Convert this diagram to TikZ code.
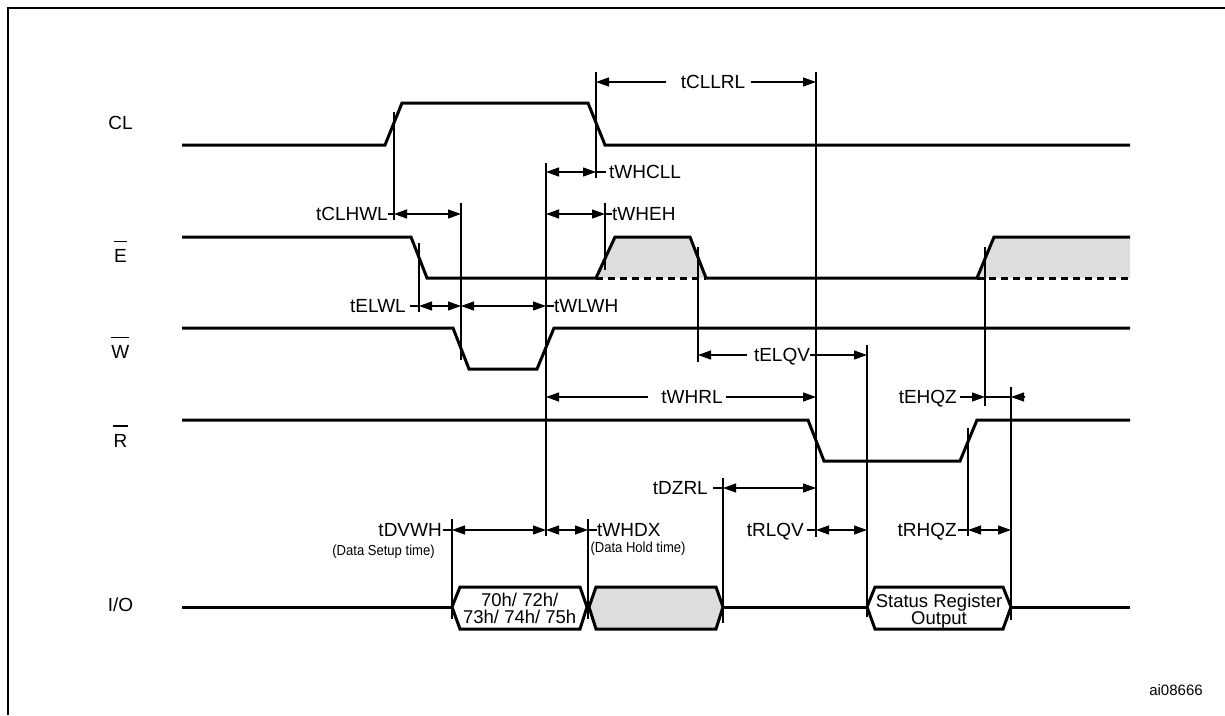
\documentclass[tikz,border=0pt]{standalone}
\usepackage{fontspec}
\setmainfont{Liberation Sans}
\usetikzlibrary{arrows.meta}
\definecolor{lightfill}{RGB}{220,221,223}
\begin{document}
\begin{tikzpicture}[x=1pt,y=-1pt,
  wave/.style={line width=3pt, line join=miter},
  guide/.style={line width=1.2pt},
  dimline/.style={line width=1.2pt},
  dimboth/.style={dimline, {Triangle[length=13pt,width=9pt]}-{Triangle[length=13pt,width=9pt]}},
  dimto/.style={dimline, -{Triangle[length=13pt,width=9pt]}},
  lbl/.style={inner sep=0pt, font=\fontsize{19}{22}\selectfont, text height=13.6pt, text depth=0pt},
  hexlbl/.style={inner sep=0pt, font=\fontsize{18.5}{20}\selectfont},
  smallnote/.style={inner sep=0pt, font=\fontsize{14.5}{16}\selectfont},
  bar/.style={line width=1.2pt},
]
\useasboundingbox (0,0) rectangle (1225,715);
\fill[white] (0,0) rectangle (1225,715);
% frame
\draw[line width=2.2pt] (8.3,715) -- (8.3,8.2) -- (1225,8.2);

% signal names
\node[lbl] (sCL) at (120.5,122.4) {CL};
\node[lbl] (sE) at (120.5,256) {E};
\node[lbl] (sW) at (120.3,351.7) {W};
\node[lbl] (sR) at (120.5,440.5) {R};
\node[lbl] (sIO) at (120.5,605) {I/O};
\foreach \n in {sE,sW,sR}
  \draw[bar] ([yshift=7.5pt]\n.north west) -- ([yshift=7.5pt]\n.north east);

% shaded regions of E
\fill[lightfill] (596,278) -- (615,237) -- (690,237) -- (706,278) -- cycle;
\fill[lightfill] (977,278) -- (994,237) -- (1130,237) -- (1130,278) -- cycle;
\draw[wave, dash pattern=on 7pt off 5pt] (596,278) -- (706,278);
\draw[wave, dash pattern=on 7pt off 5pt] (977,278) -- (1130,278);

% waveforms
\draw[wave] (182,145) -- (385,145) -- (402,103) -- (588,103) -- (605,145) -- (1130,145);
\draw[wave] (182,237) -- (411,237) -- (427,278) -- (596,278) -- (615,237) -- (690,237) -- (706,278) -- (977,278) -- (994,237) -- (1130,237);
\draw[wave] (182,328) -- (453,328) -- (469,369) -- (537,369) -- (554,328) -- (1130,328);
\draw[wave] (182,420) -- (808,420) -- (824,461) -- (960,461) -- (977,420) -- (1130,420);

% I/O bus
\draw[wave] (182,607) -- (452,607);
\draw[wave] (452,607) -- (460,587) -- (580,587) -- (587,607) -- (580,629) -- (460,629) -- cycle;
\draw[wave, fill=lightfill] (589,607) -- (596,587) -- (716,587) -- (723,607) -- (716,629) -- (596,629) -- cycle;
\draw[wave] (723,607) -- (867,607);
\draw[wave] (867,607) -- (875,587) -- (1003,587) -- (1011,607) -- (1003,629) -- (875,629) -- cycle;
\draw[wave] (1011,607) -- (1130,607);
\node[hexlbl, anchor=base] (d1) at (519.7,606.7) {70h/ 72h/};
\node[hexlbl, anchor=base] (d2) at (519.7,623.3) {73h/ 74h/ 75h};
\node[hexlbl, anchor=base] (s1) at (939,607.7) {Status Register};
\node[hexlbl, anchor=base] (s2) at (939,624.3) {Output};

% vertical guide lines (top / bottom)
\coordinate (vA) at (394,112);  \coordinate (vA2) at (394,220);
\coordinate (vB) at (596,72);   \coordinate (vB2) at (596,178);
\coordinate (vC) at (816,72);   \coordinate (vC2) at (816,537);
\coordinate (vD) at (546,163);  \coordinate (vD2) at (546,536);
\coordinate (vE) at (605,203);  \coordinate (vE2) at (605,270);
\coordinate (vF) at (461,203);  \coordinate (vF2) at (461,360);
\coordinate (vG) at (419,243);  \coordinate (vG2) at (419,312);
\coordinate (vH) at (698,247);  \coordinate (vH2) at (698,362);
\coordinate (vI) at (867,345);  \coordinate (vI2) at (867,617);
\coordinate (vJ) at (985,247);  \coordinate (vJ2) at (985,406);
\coordinate (vK) at (1011,387); \coordinate (vK2) at (1011,620);
\coordinate (vL) at (968,428);  \coordinate (vL2) at (968,536);
\coordinate (vM) at (723,478);  \coordinate (vM2) at (723,623);
\coordinate (vN) at (452,519);  \coordinate (vN2) at (452,619);
\coordinate (vO) at (588,519);  \coordinate (vO2) at (588,619);
\foreach \v in {vA,vB,vC,vD,vE,vF,vG,vH,vI,vJ,vK,vL,vM,vN,vO}
  \draw[guide] (\v) -- (\v2);

% rows
\coordinate (r1) at (0,82);
\coordinate (r2) at (0,172);
\coordinate (r3) at (0,214);
\coordinate (r4) at (0,306);
\coordinate (r5) at (0,355);
\coordinate (r6) at (0,397);
\coordinate (r7) at (0,488);
\coordinate (r8) at (0,530);

% tCLLRL
\node[lbl] (tCLLRL) at (713,82) {tCLLRL};
\draw[dimto] ([xshift=-15pt]tCLLRL.west) -- (vB |- r1);
\draw[dimto] ([xshift=6pt]tCLLRL.east) -- (vC |- r1);

% tWHCLL
\draw[dimboth] (vD |- r2) -- (vB |- r2);
\node[lbl, anchor=west] (tWHCLL) at (609,172) {tWHCLL};
\draw[dimline] (vB |- r2) -- ([xshift=-3pt]tWHCLL.west);

% tCLHWL
\node[lbl, anchor=east] (tCLHWL) at (388,214) {tCLHWL};
\draw[dimline] (tCLHWL.east) -- (vA |- r3);
\draw[dimboth] (vA |- r3) -- (vF |- r3);

% tWHEH
\draw[dimboth] (vD |- r3) -- (vE |- r3);
\node[lbl, anchor=west] (tWHEH) at (612,214) {tWHEH};
\draw[dimline] (vE |- r3) -- (tWHEH.west);

% tELWL / tWLWH
\node[lbl, anchor=east] (tELWL) at (406,306) {tELWL};
\draw[dimline] ([xshift=4pt]tELWL.east) -- (vG |- r4);
\draw[dimboth] (vG |- r4) -- (vF |- r4);
\draw[dimboth] (vF |- r4) -- (vD |- r4);
\node[lbl, anchor=west] (tWLWH) at (554,306) {tWLWH};
\draw[dimline] (vD |- r4) -- (tWLWH.west);

% tELQV
\node[lbl] (tELQV) at (782,355) {tELQV};
\draw[dimto] ([xshift=-7pt]tELQV.west) -- (vH |- r5);
\draw[dimto] (tELQV.east) -- (vI |- r5);

% tWHRL
\node[lbl] (tWHRL) at (692,397) {tWHRL};
\draw[dimto] ([xshift=-13pt]tWHRL.west) -- (vD |- r6);
\draw[dimto] ([xshift=3pt]tWHRL.east) -- (vC |- r6);

% tEHQZ
\node[lbl, anchor=east] (tEHQZ) at (957,397) {tEHQZ};
\coordinate (eEHQZ) at (1025,397);
\draw[dimto] ([xshift=3pt]tEHQZ.east) -- (vJ |- r6);
\draw[dimline] (vJ |- r6) -- (vK |- r6);
\draw[dimto] (eEHQZ) -- (vK |- r6);

% tDZRL
\node[lbl, anchor=east] (tDZRL) at (708,488) {tDZRL};
\draw[dimline] ([xshift=5pt]tDZRL.east) -- (vM |- r7);
\draw[dimboth] (vM |- r7) -- (vC |- r7);

% tDVWH / tWHDX
\node[lbl, anchor=east] (tDVWH) at (442,530) {tDVWH};
\draw[dimline] ([xshift=1pt]tDVWH.east) -- (vN |- r8);
\draw[dimboth] (vN |- r8) -- (vD |- r8);
\draw[dimboth] (vD |- r8) -- (vO |- r8);
\node[lbl, anchor=west] (tWHDX) at (597,530) {tWHDX};
\draw[dimline] (vO |- r8) -- (tWHDX.west);
\node[smallnote] (nSetup) at (383.5,552) {\scalebox{0.9}[1]{(Data Setup time)}};
\node[smallnote] (nHold) at (638,549) {\scalebox{0.9}[1]{(Data Hold time)}};

% tRLQV
\node[lbl, anchor=east] (tRLQV) at (804,530) {tRLQV};
\draw[dimline] ([xshift=3pt]tRLQV.east) -- (vC |- r8);
\draw[dimboth] (vC |- r8) -- (vI |- r8);

% tRHQZ
\node[lbl, anchor=east] (tRHQZ) at (957,530) {tRHQZ};
\draw[dimline] ([xshift=1pt]tRHQZ.east) -- (vL |- r8);
\draw[dimboth] (vL |- r8) -- (vK |- r8);

% figure id
\node[inner sep=0pt, font=\fontsize{15}{17}\selectfont] (fid) at (1176,690) {ai08666};
\end{tikzpicture}
\end{document}
